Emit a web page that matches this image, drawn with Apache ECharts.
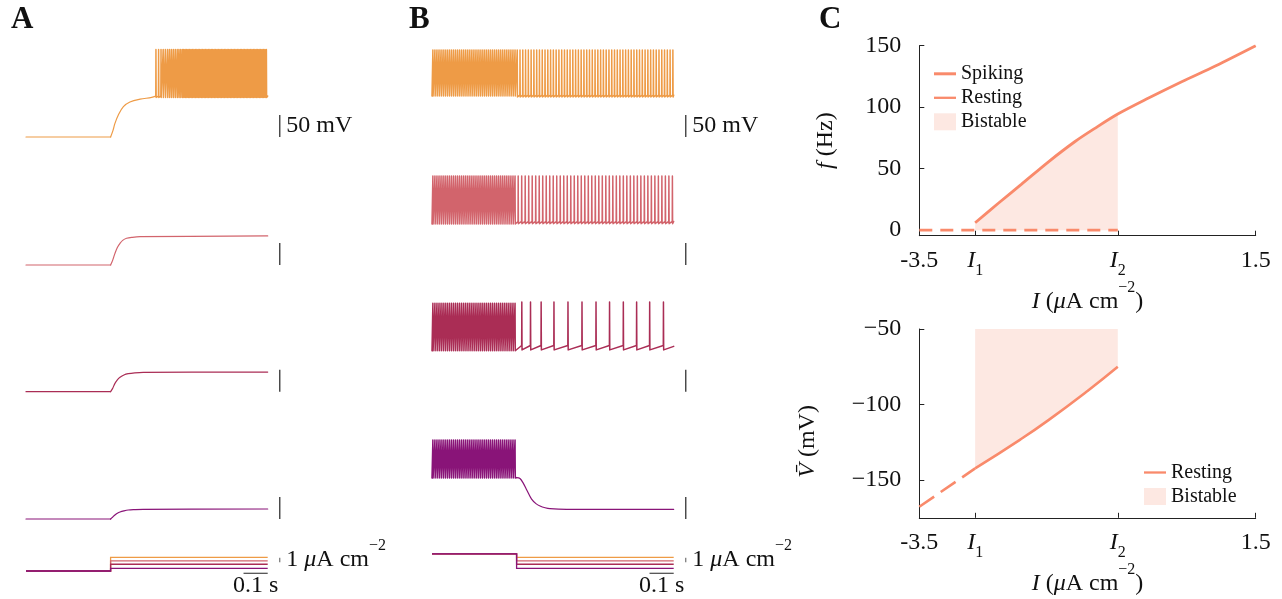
<!DOCTYPE html>
<html><head><meta charset="utf-8">
<script src="https://cdn.jsdelivr.net/npm/echarts@6/dist/echarts.min.js"></script>
<style>html,body{margin:0;padding:0;background:#fff}#c{width:1282px;height:599px}</style>
</head><body><div id="c"></div>
<script>
// ===================== DATA =====================
// common protocol (time in ms, voltage in mV, current in uA/cm^2)
const stepTime = 350;
const traceEnd = 1000;
const restV = -167;
const currentBase = -3.5;           // panel A holding current
const currentHigh = 0.3;            // panel B holding current
const currentSteps = [-0.45, -1.25, -2.0, -2.9]; // orange, coral, crimson, purple

// ---- Panel A (responses after the step) ----
const aOrangeRiseT = [350, 360, 368, 382, 403, 430, 472, 520, 537];
const aOrangeRiseV = [-167, -152, -136, -117, -98, -87.5, -81, -77, -74];
const aOrangeSpikes = [537, 548, 558, 567, 576, 585, 593, 601, 609, 617, 625, 632, 639, 646, 652, 658, 664, 670, 676, 682, 688, 694, 700, 706, 712, 718, 724, 730, 736, 742, 748, 754, 760, 766, 772, 778, 784, 790, 796, 802, 808, 814, 820, 826, 832, 838, 844, 850, 856, 862, 868, 874, 880, 886, 892, 898, 904, 910, 916, 922, 928, 934, 940, 946, 952, 958, 964, 970, 976, 982, 988, 994];
const aOrangePeak = 32, aOrangeThr = -74, aOrangeAhp = -77;
const aCoralT = [350, 358, 368, 378, 389, 400, 416, 440, 472, 1000];
const aCoralV = [-167, -157, -140.5, -127, -117.7, -111, -106.3, -104, -102.7, -101];
const aCrimsonT = [350, 358, 368, 378, 389, 405, 423, 450, 485, 1000];
const aCrimsonV = [-167, -160, -148, -140, -134.3, -129, -126, -124, -122.9, -122.3];
const aPurpleT = [350, 358, 368, 378, 389, 405, 423, 450, 485, 1000];
const aPurpleV = [-167, -163, -157.9, -154, -151.1, -148.5, -146.5, -145.6, -145, -144.3];

// ---- Panel B ----
const bPreSpikes = [3, 11.5, 20, 28.5, 37, 45.5, 54, 62.5, 71, 79.5, 88, 96.5, 105, 113.5, 122, 130.5, 139, 147.5, 156, 164.5, 173, 181.5, 190, 198.5, 207, 215.5, 224, 232.5, 241, 249.5, 258, 266.5, 275, 283.5, 292, 300.5, 309, 317.5, 326, 334.5, 343];
const bPrePeak = [31, 35, 34, 12.5];
const bPreThr = -70, bPreAhp = -74;
const bOrangePost = [352, 363.5, 375, 386.5, 398, 409.5, 421, 432.5, 444, 455.5, 467, 478.5, 490, 501.5, 513, 524.5, 536, 547.5, 559, 570.5, 582, 593.5, 605, 616.5, 628, 639.5, 651, 662.5, 674, 685.5, 697, 708.5, 720, 731.5, 743, 754.5, 766, 777.5, 789, 800.5, 812, 823.5, 835, 846.5, 858, 869.5, 881, 892.5, 904, 915.5, 927, 938.5, 950, 961.5, 973, 984.5, 996];
const bOrangeLev = [31, -72, -76];   // peak, threshold, after-hyperpolarisation
const bCoralPost = [356, 370.5, 385, 399.5, 414, 428.5, 443, 457.5, 472, 486.5, 501, 515.5, 530, 544.5, 559, 573.5, 588, 602.5, 617, 631.5, 646, 660.5, 675, 689.5, 704, 718.5, 733, 747.5, 762, 776.5, 791, 805.5, 820, 834.5, 849, 863.5, 878, 892.5, 907, 921.5, 936, 950.5, 965, 979.5, 994];
const bCoralLev = [35, -68, -73];
const bCrimsonPost = [371, 407, 451, 504, 562, 620, 678, 734, 791, 846, 900, 957];
const bCrimsonLev = [37, -62, -72];
const bCrimsonEndV = -64;
const bPurpleDecayT = [350, 364, 378, 392, 412, 430, 447, 468, 488, 557, 1000];
const bPurpleDecayV = [-73, -75, -86, -101, -122, -132, -137.5, -141.5, -143.6, -145, -145];

// scale bars
const barMV = 50, barMs = 100, barUA = 1;

// ---- Panel C ----
const I1 = -2.67, I2 = -0.55;
const xTickValues = [-3.5, I1, I2, 1.5];
const fTickValues = [0, 50, 100, 150];
const vTickValues = [-150, -100, -50];
const spikingI = [-2.67, -2.33, -1.98, -1.58, -1.19, -0.89, -0.55, -0.10, 0.40, 0.90, 1.50];
const spikingF = [6, 21.7, 37.4, 55.6, 71.9, 82.8, 94.4, 107.2, 120.7, 133.5, 150];
const restingFreqI = [-3.5, -0.55];
const restingFreqF = [0, 0];
const restingI = [-3.5, -2.67, -2.0, -1.58, -1.0, -0.55];
const restingV = [-167.7, -142.3, -123.2, -110.3, -91.0, -75];

// ===================== STYLE / LAYOUT =====================
const FONT = "'Liberation Serif','DejaVu Serif',serif";
const INK = '#111';
const TR = ['#EE9B46', '#D2646C', '#AA2D55', '#891478'];
const CL = '#F98A6B', CF = '#FDE8E2';
const A_X0 = 26, B_X0 = 432, PX_MS = 0.2417, T_MAX = 1100, BAR_T = 1050;
const V_MIN = -180, V_MAX = 45, PX_MV = 0.44;
const baseY = [137, 265, 391.7, 519];
const I_MIN = -4.5, I_MAX = 1.0, PX_UA = 4.5, I_BASE_Y = 571;
const TBAR_I = -4.0, IBAR_LO = -1.56;

const zip = (a, b) => a.map((v, i) => [v, b[i]]);
function spikeTrain(times, peak, thr, ahp) {
  const pts = [];
  times.forEach(t => { pts.push([t, thr], [t + 0.6, peak], [t + 1.5, ahp]); });
  return pts;
}

const grids = [], xAxes = [], yAxes = [], series = [];
function hiddenGrid(left, top, width, height, xmin, xmax, ymin, ymax) {
  grids.push({left, top, width, height, outerBoundsMode: 'none', containLabel: false});
  xAxes.push({type: 'value', gridIndex: grids.length - 1, min: xmin, max: xmax, show: false});
  yAxes.push({type: 'value', gridIndex: grids.length - 1, min: ymin, max: ymax, show: false});
  return grids.length - 1;
}
function ln(g, data, color, extra, width) {
  return Object.assign({type: 'line', xAxisIndex: g, yAxisIndex: g, data, symbol: 'none', color,
    lineStyle: {color, width: width || 1.2, join: 'round', cap: 'round'}, silent: true, animation: false, z: 3}, extra || {});
}
function labelPoint(g, pt, text, pos, dist, rich) {
  return {type: 'scatter', xAxisIndex: g, yAxisIndex: g, data: [pt], symbolSize: 1,
    itemStyle: {color: 'rgba(255,255,255,0)'}, silent: true, animation: false, z: 5,
    label: {show: true, position: pos, distance: dist, formatter: text, color: INK, opacity: 1,
      fontFamily: FONT, fontSize: 24, rich: rich || {}}};
}
const unitRich = {
  mu: {fontStyle: 'italic', fontSize: 24, fontFamily: FONT, color: INK, lineHeight: 44},
  t: {fontSize: 24, fontFamily: FONT, color: INK, lineHeight: 44},
  sup: {fontSize: 16, fontFamily: FONT, color: INK, lineHeight: 11, verticalAlign: 'top'}
};
const SPIKE_W = 1.5;

// ---- build panels A and B ----
function buildPanel(x0, isB) {
  const gT = [];
  for (let k = 0; k < 4; k++) {
    gT.push(hiddenGrid(x0, baseY[k] - (V_MAX - restV) * PX_MV, T_MAX * PX_MS, (V_MAX - V_MIN) * PX_MV, 0, T_MAX, V_MIN, V_MAX));
  }
  const gI = hiddenGrid(x0, I_BASE_Y - (I_MAX - currentBase) * PX_UA, T_MAX * PX_MS, (I_MAX - I_MIN) * PX_UA, 0, T_MAX, I_MIN, I_MAX);
  const sm = {smooth: 0.35};
  if (!isB) {
    const rises = [zip(aOrangeRiseT, aOrangeRiseV), zip(aCoralT, aCoralV), zip(aCrimsonT, aCrimsonV), zip(aPurpleT, aPurpleV)];
    for (let k = 0; k < 4; k++) {
      series.push(ln(gT[k], [[0, restV], [stepTime, restV]], TR[k]));
      series.push(ln(gT[k], rises[k], TR[k], sm));
    }
    series.push(ln(gT[0], spikeTrain(aOrangeSpikes, aOrangePeak, aOrangeThr, aOrangeAhp).concat([[traceEnd, aOrangeThr]]), TR[0], null, SPIKE_W));
  } else {
    const pre = k => [[0, bPreAhp]].concat(spikeTrain(bPreSpikes, bPrePeak[k], bPreThr, bPreAhp));
    series.push(ln(gT[0], pre(0).concat(spikeTrain(bOrangePost, ...bOrangeLev), [[traceEnd, bOrangeLev[1]]]), TR[0], null, SPIKE_W));
    series.push(ln(gT[1], pre(1).concat(spikeTrain(bCoralPost, ...bCoralLev), [[traceEnd, bCoralLev[1]]]), TR[1], null, SPIKE_W));
    series.push(ln(gT[2], pre(2).concat(spikeTrain(bCrimsonPost, ...bCrimsonLev), [[traceEnd, bCrimsonEndV]]), TR[2], null, SPIKE_W));
    series.push(ln(gT[3], pre(3).concat([[stepTime, bPurpleDecayV[0]]]), TR[3], null, SPIKE_W));
    series.push(ln(gT[3], zip(bPurpleDecayT, bPurpleDecayV), TR[3], sm));
  }
  // injected currents
  const hold = isB ? currentHigh : currentBase;
  for (let k = 0; k < 4; k++) {
    series.push(ln(gI, [[0, hold], [stepTime, hold], [stepTime, currentSteps[k]], [traceEnd, currentSteps[k]]], TR[k],
      {lineStyle: {color: TR[k], width: 1.3, join: 'miter'}}));
  }
  // scale bars
  for (let k = 0; k < 4; k++) {
    series.push(ln(gT[k], [[BAR_T, restV], [BAR_T, restV + barMV]], '#222', {lineStyle: {color: '#222', width: 1.2}}));
  }
  series.push(labelPoint(gT[0], [BAR_T, restV + barMV / 2], barMV + ' mV', 'right', 6));
  series.push(ln(gI, [[traceEnd - barMs, TBAR_I], [traceEnd, TBAR_I]], '#222', {lineStyle: {color: '#222', width: 1.2}}));
  series.push(labelPoint(gI, [traceEnd - barMs / 2, TBAR_I], (barMs / 1000) + ' s', 'bottom', 0));
  series.push(ln(gI, [[BAR_T, IBAR_LO], [BAR_T, IBAR_LO + barUA]], '#555', {lineStyle: {color: '#555', width: 1}}));
  series.push(labelPoint(gI, [BAR_T, IBAR_LO + barUA / 2], '{t|' + barUA + ' }{mu|μ}{t|A cm}{sup|−2}', 'right', 6, unitRich));
}
buildPanel(A_X0, false);
buildPanel(B_X0, true);

// ---- panel C ----
const near = (a, b) => Math.abs(a - b) < 1e-6;
const xRich = {
  n: {fontSize: 24, fontFamily: FONT, color: INK, lineHeight: 36},
  i: {fontSize: 24, fontFamily: FONT, fontStyle: 'italic', color: INK, lineHeight: 36},
  sub: {fontSize: 16, fontFamily: FONT, color: INK, lineHeight: 16, verticalAlign: 'bottom'}
};
const xFmt = v => near(v, I1) ? '{i|I}{sub|1}' : near(v, I2) ? '{i|I}{sub|2}' : '{n|' + v + '}';
const nameRich = {
  i: {fontSize: 24, fontFamily: FONT, fontStyle: 'italic', color: INK, lineHeight: 44},
  t: {fontSize: 24, fontFamily: FONT, color: INK, lineHeight: 44},
  mu: {fontSize: 24, fontFamily: FONT, fontStyle: 'italic', color: INK, lineHeight: 44},
  sup: {fontSize: 16, fontFamily: FONT, color: INK, lineHeight: 11, verticalAlign: 'top'}
};
const xName = '{i|I}{t| (}{mu|μ}{t|A cm}{sup|−2}{t|)}';
const axLine = {show: true, onZero: false, lineStyle: {color: '#222', width: 1}};
const axTick = vals => ({show: true, inside: true, length: 5, customValues: vals, lineStyle: {color: '#222', width: 1}});

function cGrid(top, height, ymin, ymax, yTicks, yFmt, yName, yGap, yPad) {
  grids.push({left: 919.3, top, width: 336.4, height, outerBoundsMode: 'none', containLabel: false});
  const g = grids.length - 1;
  xAxes.push({type: 'value', gridIndex: g, min: -3.5, max: 1.5, splitLine: {show: false},
    axisLine: axLine, axisTick: axTick(xTickValues),
    axisLabel: {customValues: xTickValues, formatter: xFmt, rich: xRich, margin: 7, color: INK, fontFamily: FONT, fontSize: 24},
    name: xName, nameLocation: 'middle', nameGap: 41, nameTextStyle: {rich: nameRich, fontFamily: FONT, fontSize: 24, color: INK}});
  yAxes.push({type: 'value', gridIndex: g, min: ymin, max: ymax, splitLine: {show: false},
    axisLine: axLine, axisTick: axTick(yTicks),
    axisLabel: {customValues: yTicks, formatter: yFmt, margin: 18, color: INK, fontFamily: FONT, fontSize: 24},
    name: yName, nameLocation: 'middle', nameGap: yGap,
    nameTextStyle: {rich: nameRich, fontFamily: FONT, fontSize: 24, color: INK, padding: yPad}});
  return g;
}
const gF = cGrid(45.7, 190, -4.5, 150, fTickValues, v => String(v), '{i|f}{t| (Hz)}', 72, [0, 0, 0, 0]);
const gV = cGrid(329, 188.8, -175, -50, vTickValues, v => (v < 0 ? '−' + Math.abs(v) : String(v)), '{i|V̄}{t| (mV)}', 90, [0, 36, 0, 0]);

const spikePts = zip(spikingI, spikingF);
const restPts = zip(restingI, restingV);
const i1Index = restingI.findIndex(v => near(v, I1));
series.push({type: 'line', name: 'Bistable', xAxisIndex: gF, yAxisIndex: gF, data: spikePts.filter(p => p[0] <= I2 + 1e-9),
  symbol: 'none', smooth: 0.3, color: CL, lineStyle: {width: 0, color: CL}, areaStyle: {color: CF, opacity: 1}, z: 1, silent: true, animation: false});
series.push({type: 'line', name: 'Resting', xAxisIndex: gF, yAxisIndex: gF, data: zip(restingFreqI, restingFreqF),
  symbol: 'none', color: CL, lineStyle: {width: 2.6, color: CL, type: [13, 8]}, z: 3, silent: true, animation: false});
series.push({type: 'line', name: 'Spiking', xAxisIndex: gF, yAxisIndex: gF, data: spikePts,
  symbol: 'none', smooth: 0.3, color: CL, lineStyle: {width: 2.8, color: CL}, z: 4, silent: true, animation: false});

series.push({type: 'line', name: 'Bistable', xAxisIndex: gV, yAxisIndex: gV, data: restPts.slice(i1Index),
  symbol: 'none', smooth: 0.5, color: CL, lineStyle: {width: 0, color: CL}, areaStyle: {color: CF, opacity: 1, origin: 'end'}, z: 1, silent: true, animation: false});
series.push({type: 'line', name: 'Resting', xAxisIndex: gV, yAxisIndex: gV, data: restPts.slice(0, i1Index + 1),
  symbol: 'none', color: CL, lineStyle: {width: 2.6, color: CL, type: [18, 8]}, z: 3, silent: true, animation: false});
series.push({type: 'line', name: 'Resting', xAxisIndex: gV, yAxisIndex: gV, data: restPts.slice(i1Index),
  symbol: 'none', smooth: 0.5, color: CL, lineStyle: {width: 2.6, color: CL}, z: 3, silent: true, animation: false});

const legendText = {fontFamily: FONT, fontSize: 20, color: INK};
const legendItems = {
  Spiking: {name: 'Spiking', icon: 'path://M0,0H22V3H0Z', itemStyle: {borderWidth: 0}},
  Resting: {name: 'Resting', icon: 'path://M0,0H22V2.3H0Z', itemStyle: {borderWidth: 0}},
  Bistable: {name: 'Bistable', icon: 'rect', itemStyle: {color: CF, borderWidth: 0}}
};

const option = {
  animation: false,
  backgroundColor: '#fff',
  textStyle: {fontFamily: FONT},
  title: [
    {text: 'A', left: 11, top: 4, padding: 0, textStyle: {fontFamily: FONT, fontWeight: 'bold', fontSize: 31, color: INK}},
    {text: 'B', left: 409, top: 4, padding: 0, textStyle: {fontFamily: FONT, fontWeight: 'bold', fontSize: 31, color: INK}},
    {text: 'C', left: 819, top: 4, padding: 0, textStyle: {fontFamily: FONT, fontWeight: 'bold', fontSize: 31, color: INK}}
  ],
  legend: [
    {left: 934, top: 63.8, orient: 'vertical', itemWidth: 22, itemHeight: 17, itemGap: 4, padding: 0,
      selectedMode: false, symbolKeepAspect: true, textStyle: legendText,
      data: [legendItems.Spiking, legendItems.Resting, legendItems.Bistable]},
    {left: 1144, top: 462.5, orient: 'vertical', itemWidth: 22, itemHeight: 17, itemGap: 4, padding: 0,
      selectedMode: false, symbolKeepAspect: true, textStyle: legendText,
      data: [legendItems.Resting, legendItems.Bistable]}
  ],
  grid: grids, xAxis: xAxes, yAxis: yAxes, series
};
const chart = echarts.init(document.getElementById('c'), null, {renderer: 'canvas', width: 1282, height: 599});
chart.setOption(option);
</script></body></html>
